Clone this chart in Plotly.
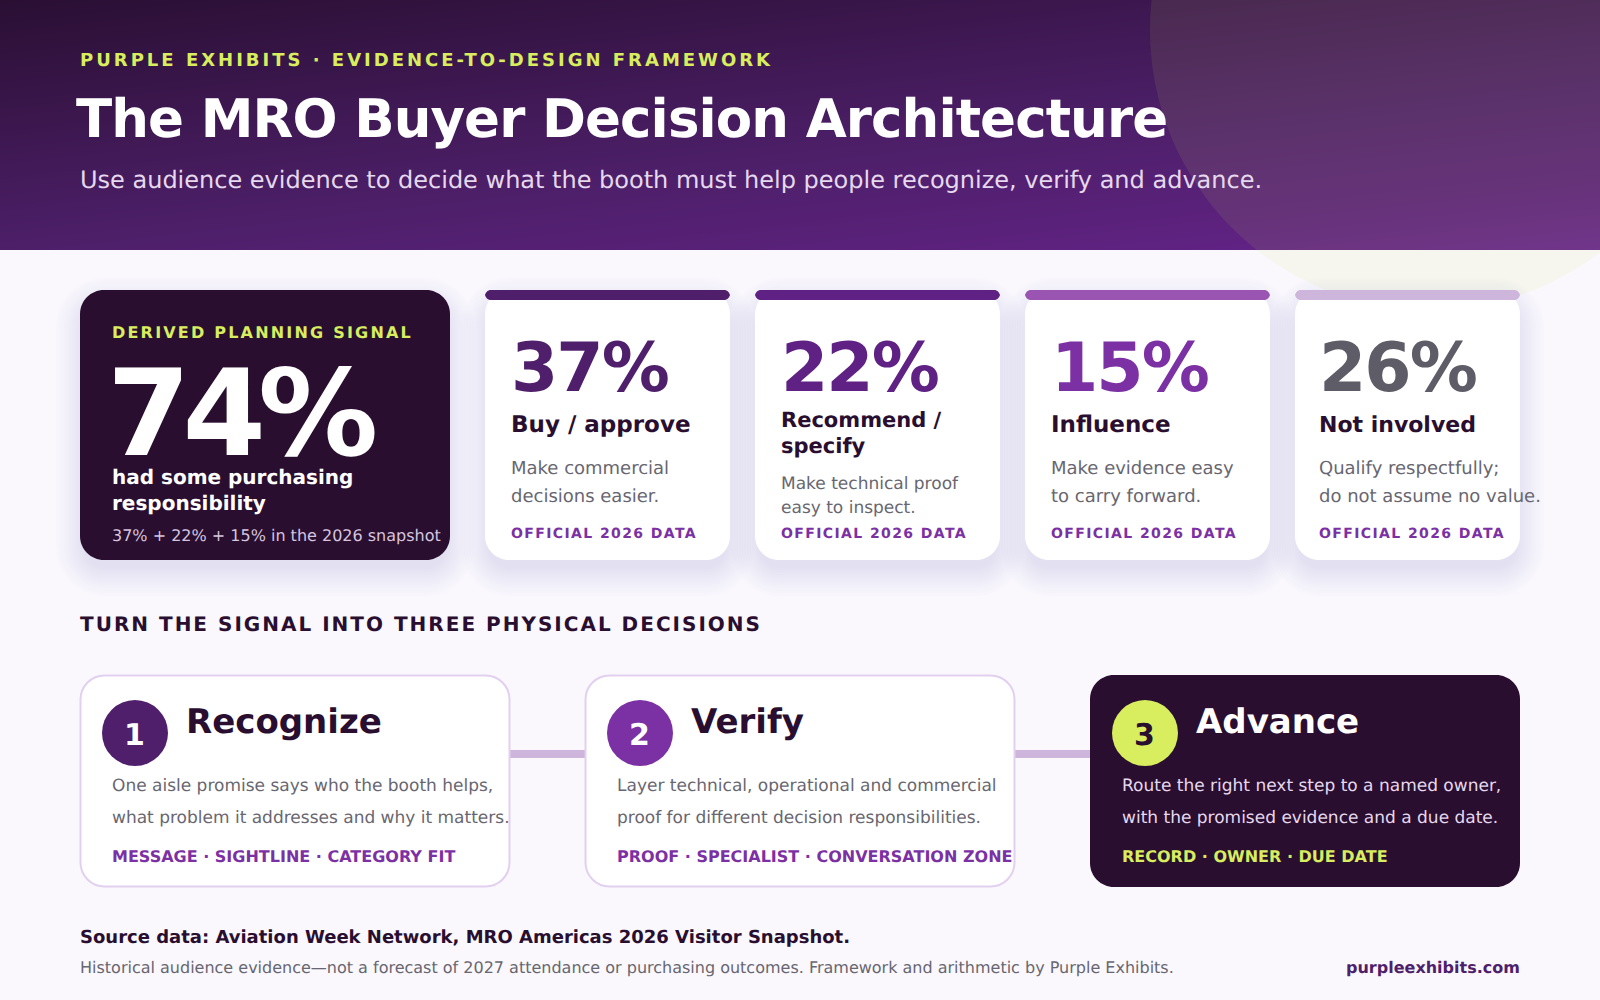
import json
import plotly.graph_objects as go

# Text and values
# ---------------------------------------------------------
eyebrow = "PURPLE EXHIBITS · EVIDENCE-TO-DESIGN FRAMEWORK"
title = "The MRO Buyer Decision Architecture"
subtitle = "Use audience evidence to decide what the booth must help people recognize, verify and advance."

signal_label = "DERIVED PLANNING SIGNAL"
signal_value = 74
signal_lines = ["had some purchasing", "responsibility"]
signal_note = "37% + 22% + 15% in the 2026 snapshot"

stat_values = [37, 22, 15, 26]
stat_names = [["Buy / approve"], ["Recommend /", "specify"], ["Influence"], ["Not involved"]]
stat_notes = [
    ["Make commercial", "decisions easier."],
    ["Make technical proof", "easy to inspect."],
    ["Make evidence easy", "to carry forward."],
    ["Qualify respectfully;", "do not assume no value."],
]
stat_tag = "OFFICIAL 2026 DATA"

section_title = "TURN THE SIGNAL INTO THREE PHYSICAL DECISIONS"

step_names = ["Recognize", "Verify", "Advance"]
step_notes = [
    ["One aisle promise says who the booth helps,", "what problem it addresses and why it matters."],
    ["Layer technical, operational and commercial", "proof for different decision responsibilities."],
    ["Route the right next step to a named owner,", "with the promised evidence and a due date."],
]
step_tags = [
    "MESSAGE · SIGHTLINE · CATEGORY FIT",
    "PROOF · SPECIALIST · CONVERSATION ZONE",
    "RECORD · OWNER · DUE DATE",
]

source_line = "Source data: Aviation Week Network, MRO Americas 2026 Visitor Snapshot."
source_note = "Historical audience evidence—not a forecast of 2027 attendance or purchasing outcomes. Framework and arithmetic by Purple Exhibits."
site = "purpleexhibits.com"

# Colours
# ---------------------------------------------------------
BG = "#faf8fd"
DARK = "#290e30"
LIME = "#d8ee5e"
PURPLE = "#7b30a3"
GREY = "#686670"
stat_colors = ["#4f1f6b", "#5f2183", "#7b30a3", "#5e5c66"]
bar_colors = ["#4f1f6b", "#5f2183", "#9a55b3", "#cdb5db"]
step_colors = ["#4f1f6b", "#7b30a3", LIME]

FONT = "DejaVu Sans"
shapes = []
annotations = []


def rounded(x0, y0, x1, y1, r):
    k = r * 0.448  # control point offset for a round corner
    return (f"M{x0+r},{y0} L{x1-r},{y0} C{x1-k},{y0} {x1},{y0+k} {x1},{y0+r} L{x1},{y1-r} "
            f"C{x1},{y1-k} {x1-k},{y1} {x1-r},{y1} L{x0+r},{y1} C{x0+k},{y1} {x0},{y1-k} {x0},{y1-r} "
            f"L{x0},{y0+r} C{x0},{y0+k} {x0+k},{y0} {x0+r},{y0} Z")


def box(x0, y0, x1, y1, r, fill, line=None, width=0):
    shapes.append(dict(type="path", path=rounded(x0, y0, x1, y1, r), fillcolor=fill,
                       line=dict(color=line or fill, width=width), layer="above"))


def shadow(x0, y0, x1, y1, r):
    # stacked translucent boxes stand in for a css box-shadow
    for i in range(12):
        grow = 24 - i * 2.6
        box(x0 - grow, y0 + 12 - grow, x1 + grow, y1 + 12 + grow, r + grow, "rgba(50,40,80,0.0070)")


def label(x, baseline, text, size, color, bold=False, anchor="left"):
    # baseline -> box middle, from the DejaVu ascent/descent
    annotations.append(dict(x=x - 1 if anchor == "left" else x, y=baseline - 0.346 * size, xref="x", yref="y",
                            text=text, showarrow=False, xanchor=anchor, yanchor="middle", align=anchor, borderpad=0,
                            font=dict(family=FONT, size=size, color=color, weight=700 if bold else 400)))


# Background: header gradient is a small heatmap, page colour covers what spills below it
# ---------------------------------------------------------
fig = go.Figure(go.Heatmap(
    x=[0, 1600], y=[0, 250], z=[[0, 0.42], [0.58, 1]], zmin=0, zmax=1, zsmooth="best",
    colorscale=[[0, "#2a0f33"], [0.58, "#4d1f69"], [0.87, "#5e2280"], [1, "#682490"]],
    showscale=False, hoverinfo="skip",
))
shapes.append(dict(type="rect", x0=0, x1=1600, y0=250, y1=1000, fillcolor=BG, line=dict(width=0), layer="above"))
shapes.append(dict(type="circle", x0=1150, x1=1710, y0=-250, y1=310, fillcolor="rgba(216,238,94,0.09)",
                   line=dict(width=0), layer="above"))

label(80, 66, eyebrow, 18, LIME, True)
label(76, 136.5, title, 53, "#ffffff", True)
label(80, 188, subtitle, 24, "#e6d9ee")

# Signal card
# ---------------------------------------------------------
shadow(80, 290, 450, 560, 24)
box(80, 290, 450, 560, 24, DARK)
label(112, 338, signal_label, 16, LIME, True)
label(106.5, 455, f"{signal_value}%", 120, "#ffffff", True)
for i, line in enumerate(signal_lines):
    label(112, 484 + i * 26, line, 20, "#ffffff", True)
label(112, 541, signal_note, 16, "#d5c5df")

# Stat cards
# ---------------------------------------------------------
card_x = [485, 755, 1025, 1295]
card_w = [245, 245, 245, 225]
name_size = [23, 21, 23, 22]
for x, w in zip(card_x, card_w):
    shadow(x, 290, x + w, 560, 24)
for i, (x, w) in enumerate(zip(card_x, card_w)):
    box(x, 290, x + w, 560, 24, "#ffffff")
    box(x, 290, x + w, 300, 6, bar_colors[i])
    tx = x + (24 if w == 225 else 26)
    label(tx, 391, f"{stat_values[i]}%", 68, stat_colors[i], True)
    names = stat_names[i]
    if len(names) == 1:
        label(tx, 432, names[0], name_size[i], DARK, True)
        label(tx, 474, stat_notes[i][0], 18, GREY)
        label(tx, 502, stat_notes[i][1], 18, GREY)
    else:
        label(tx, 427, names[0], name_size[i], DARK, True)
        label(tx, 453, names[1], name_size[i], DARK, True)
        label(tx, 489, stat_notes[i][0], 17, GREY)
        label(tx, 513, stat_notes[i][1], 17, GREY)
    label(tx, 538, stat_tag, 14, PURPLE, True)

label(80, 631, section_title, 20, DARK, True)

# Step cards and connectors
# ---------------------------------------------------------
step_x = [80, 585, 1090]
for x in step_x[:2]:
    shapes.append(dict(type="rect", x0=x + 430, x1=x + 505, y0=750, y1=758, fillcolor="#cdb5db",
                       line=dict(width=0), layer="above"))
for i, x in enumerate(step_x):
    on_dark = i == 2
    if on_dark:
        box(x, 675, x + 430, 887, 24, DARK)
    else:
        box(x + 0.5, 675.5, x + 429.5, 886.5, 24, "#ffffff", "#e2d0f0", 2)
    shapes.append(dict(type="circle", x0=x + 22, x1=x + 88, y0=700, y1=766, fillcolor=step_colors[i],
                       line=dict(width=0), layer="above"))
    label(x + 54.5, 744.5, str(i + 1), 30, DARK if on_dark else "#ffffff", True, anchor="center")
    label(x + 106, 733, step_names[i], 34, "#ffffff" if on_dark else DARK, True)
    for j, line in enumerate(step_notes[i]):
        label(x + 32, 791 + j * 32, line, 17, "#e6d9ee" if on_dark else GREY)
    label(x + 32, 862, step_tags[i], 16, LIME if on_dark else PURPLE, True)

# Footer
# ---------------------------------------------------------
label(80, 943, source_line, 18, DARK, True)
label(80, 973, source_note, 16, GREY)
label(1521, 973, site, 16, "#4f1f6b", True, anchor="right")

fig.update_layout(
    width=1600, height=1000, margin=dict(l=0, r=0, t=0, b=0),
    paper_bgcolor=BG, plot_bgcolor=BG, showlegend=False,
    xaxis=dict(range=[0, 1600], visible=False, fixedrange=True),
    yaxis=dict(range=[1000, 0], visible=False, fixedrange=True),
    shapes=shapes, annotations=annotations,
)

# plotly has no letter spacing for annotations, so it is set on the rendered text
spacing = {eyebrow: 3, title: -0.9, signal_label: 2.2, stat_tag: 1.4, section_title: 2, f"{signal_value}%": -8}
for v in stat_values:
    spacing[f"{v}%"] = -2
post = ("document.body.style.margin='0';document.body.style.overflow='hidden';var ls=" + json.dumps(spacing) + ";"
        "document.querySelectorAll('.annotation-text').forEach(function(t){"
        "t.style.textRendering='geometricPrecision';"
        "var s=ls[t.textContent];if(s){t.style.letterSpacing=s+'px';}});")

fig.write_html("out.html", post_script=post, config=dict(displayModeBar=False))
